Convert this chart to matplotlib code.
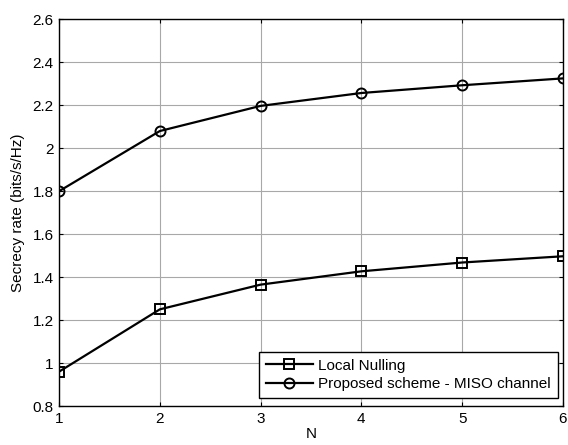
import matplotlib
matplotlib.use("Agg")
import matplotlib.pyplot as plt

N = [1, 2, 3, 4, 5, 6]
local_nulling = [0.96, 1.25, 1.365, 1.427, 1.468, 1.497]
proposed_miso = [1.80, 2.08, 2.197, 2.257, 2.293, 2.325]
labels = ["Local Nulling", "Proposed scheme - MISO channel"]

plt.rcParams['font.family'] = ['Liberation Sans', 'DejaVu Sans']
fig = plt.figure(figsize=(5.68, 4.45), dpi=100)
ax = fig.add_axes([0.104, 0.0876, 0.887, 0.869])

ax.plot(N, local_nulling, color='black', lw=1.6, marker='s', ms=7.2,
        mfc='none', mec='black', mew=1.4, label=labels[0])
ax.plot(N, proposed_miso, color='black', lw=1.6, marker='o', ms=7.2,
        mfc='none', mec='black', mew=1.4, label=labels[1])

ax.set_xlim(1, 6)
ax.set_ylim(0.8, 2.6)
ax.set_xticks(N)
yt = [0.8, 1.0, 1.2, 1.4, 1.6, 1.8, 2.0, 2.2, 2.4, 2.6]
ax.set_yticks(yt)
ax.set_yticklabels(['0.8', '1', '1.2', '1.4', '1.6', '1.8', '2', '2.2', '2.4', '2.6'])
ax.grid(True, color='#a8a8a8', lw=0.8)
ax.tick_params(direction='in', top=True, right=True, labelsize=11, length=3, width=0.8, pad=4)
for s in ax.spines.values():
    s.set_linewidth(1.0)
ax.set_xlabel('N', fontsize=11, labelpad=1)
ax.set_ylabel('Secrecy rate (bits/s/Hz)', fontsize=11, labelpad=5)

leg = ax.legend(loc='lower right', bbox_to_anchor=(0.990, 0.0207), borderaxespad=0,
                fontsize=11, fancybox=False, framealpha=1,
                edgecolor='black', handlelength=3.1, handletextpad=0.35,
                labelspacing=0.3, borderpad=0.45)
leg.get_frame().set_linewidth(1.0)

fig.savefig('out.png', dpi=100)
